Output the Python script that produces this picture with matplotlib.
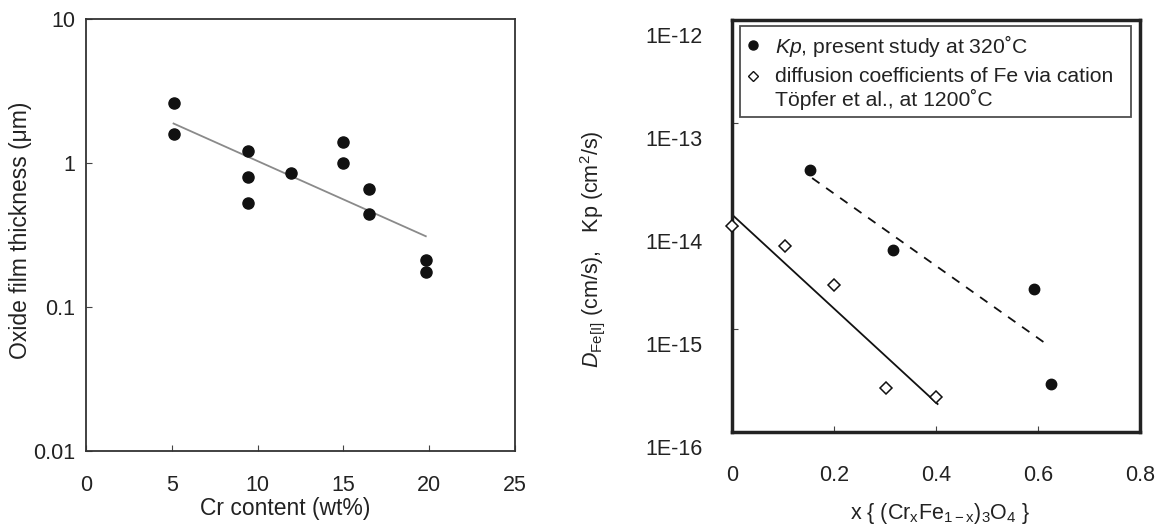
import numpy as np
import matplotlib
matplotlib.use("Agg")
from matplotlib import pyplot as plt
from matplotlib.lines import Line2D
import matplotlib.transforms as mtransforms

plt.rcParams["font.family"] = ["Liberation Sans", "DejaVu Sans"]
plt.rcParams["mathtext.fontset"] = "custom"
plt.rcParams["mathtext.rm"] = "Liberation Sans"
plt.rcParams["mathtext.it"] = "Liberation Sans:italic"
plt.rcParams["mathtext.bf"] = "Liberation Sans:bold"

TXT = "#222222"

# left panel: oxide film thickness vs Cr content
cr_content = [5.15, 5.15, 9.45, 9.45, 9.45, 11.95, 15.0, 15.0, 16.5, 16.5, 19.8, 19.8]
thickness = [2.63, 1.6, 1.21, 0.80, 0.53, 0.85, 1.40, 1.0, 0.66, 0.44, 0.212, 0.174]
fit_cr = [5.1, 19.8]
fit_thick = [1.88, 0.31]

# right panel: Kp and diffusion coefficients vs x
kp_x = [0.153, 0.315, 0.592, 0.625]
kp_y = [3.5e-14, 5.9e-15, 2.45e-15, 2.9e-16]
kp_fit_x = [0.157, 0.617]
kp_fit_y = [2.92e-14, 7.1e-16]
dif_x = [0.0, 0.103, 0.2, 0.301, 0.40]
dif_y = [1.0e-14, 6.4e-15, 2.65e-15, 2.7e-16, 2.2e-16]
dif_fit_x = [0.0, 0.403]
dif_fit_y = [1.29e-14, 1.87e-16]

right_yticks = [1e-16, 1e-15, 1e-14, 1e-13, 1e-12]
right_ylabels = ["1E-16", "1E-15", "1E-14", "1E-13", "1E-12"]

fig = plt.figure(figsize=(11.55, 5.26), dpi=100)

# ---- left
ax1 = fig.add_axes([0.0745, 0.1426, 0.3714, 0.8213])
ax1.set_yscale("log")
ax1.plot(fit_cr, fit_thick, color="#8a8a8a", lw=1.3, zorder=2)
ax1.plot(cr_content, thickness, "o", color="#111111", markersize=8, zorder=3)
ax1.set_xlim(0, 25)
ax1.set_ylim(0.01, 10)
ax1.set_xticks([0, 5, 10, 15, 20, 25])
ax1.set_yticks([0.01, 0.1, 1, 10])
ax1.set_yticklabels(["0.01", "0.1", "1", "10"])
ax1.minorticks_off()
ax1.tick_params(direction="in", length=4, width=0.8, colors="#444444",
                labelcolor=TXT, labelsize=15.5)
ax1.tick_params(axis="x", pad=17)
ax1.tick_params(axis="y", pad=8)
for s in ax1.spines.values():
    s.set_linewidth(1.3)
    s.set_color("#333333")
ax1.set_xlabel("Cr content (wt%)", fontsize=16.5, color=TXT)
ax1.xaxis.set_label_coords(0.465, -0.106)
ax1.set_ylabel("Oxide film thickness (μm)", fontsize=16.5, color=TXT)
ax1.yaxis.set_label_coords(-0.125, 0.51)

# ---- right
ax2 = fig.add_axes([0.6338, 0.1787, 0.3533, 0.7833])
ax2.set_yscale("log")
ax2.plot(dif_fit_x, dif_fit_y, "-", color="#111111", lw=1.3, zorder=2)
ax2.plot(kp_fit_x, kp_fit_y, "--", color="#111111", lw=1.3, dashes=(5, 4.5), zorder=2)
ax2.plot(kp_x, kp_y, "o", color="#111111", markersize=7.5, zorder=3, clip_on=False)
ax2.plot(dif_x, dif_y, "D", mfc="white", mec="#111111", mew=1.1, markersize=6.2,
         zorder=3, clip_on=False)
ax2.set_xlim(0, 0.8)
ax2.set_ylim(1e-16, 1e-12)
ax2.set_xticks([0, 0.2, 0.4, 0.6, 0.8])
ax2.set_xticklabels(["0", "0.2", "0.4", "0.6", "0.8"])
ax2.set_yticks(right_yticks)
ax2.set_yticklabels(right_ylabels)
ax2.minorticks_off()
ax2.tick_params(direction="in", length=4, width=0.8, colors="#444444",
                labelcolor=TXT, labelsize=15.5)
ax2.tick_params(axis="x", pad=24)
ax2.tick_params(axis="y", pad=21)
shift = mtransforms.ScaledTranslation(0, -0.15, fig.dpi_scale_trans)
for lbl in ax2.get_yticklabels():
    lbl.set_transform(lbl.get_transform() + shift)
for s in ax2.spines.values():
    s.set_linewidth(2.5)
    s.set_color("#222222")
ax2.set_xlabel(r"x { (Cr$_\mathrm{x}$Fe$_\mathrm{1-x}$)$_3$O$_4$ }", fontsize=15.5, color=TXT)
ax2.xaxis.set_label_coords(0.511, -0.168)
ax2.set_ylabel(r"$D_{\mathrm{Fe[I]}}$ (cm/s),   Kp (cm$^2$/s)", fontsize=15.5, color=TXT)
ax2.yaxis.set_label_coords(-0.306, 0.444)

handles = [
    Line2D([], [], ls="none", marker="o", color="#111111", markersize=6.5),
    Line2D([], [], ls="none", marker="D", mfc="white", mec="#111111", mew=1.0, markersize=5),
]
labels = [r"$Kp$, present study at 320˚C",
          "diffusion coefficients of Fe via cation\nTöpfer et al., at 1200˚C"]
leg = ax2.legend(handles, labels, loc="upper left",
                 bbox_to_anchor=(0.0196, 0.985, 0.958, 0.0), mode="expand",
                 borderaxespad=0, fontsize=15.2, frameon=True, fancybox=False,
                 handlelength=0.6, handletextpad=0.75, borderpad=0.3,
                 labelspacing=0.4, labelcolor=TXT)
leg.get_frame().set_edgecolor("#222222")
leg.get_frame().set_linewidth(1.3)
# marker of the two-line entry sits beside its first line
h = leg.legend_handles[1]
h.set_ydata(np.asarray(h.get_ydata()) + 9)

fig.savefig("out.png", dpi=100)
